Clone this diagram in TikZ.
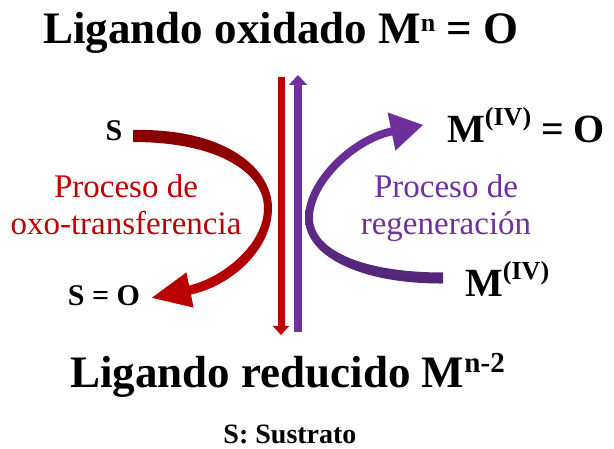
\documentclass[tikz,border=0pt]{standalone}
\usepackage{fontspec}
\setmainfont{LiberationSerif}[Extension=.ttf, UprightFont=*-Regular, BoldFont=*-Bold, ItalicFont=*-Italic, BoldItalicFont=*-BoldItalic]
\usetikzlibrary{arrows.meta}
\definecolor{redc}{RGB}{192,0,0}
\definecolor{redd}{RGB}{135,0,0}
\definecolor{purc}{RGB}{112,48,160}
\definecolor{purd}{RGB}{84,38,120}
\newcommand{\mysup}[3]{\raisebox{#2}{\fontsize{#1}{#1}\selectfont #3}}
\tikzset{
  big/.style={font=\rmfamily\fontsize{45}{50}\selectfont\bfseries, inner sep=0pt},
  med/.style={font=\rmfamily\fontsize{40}{44}\selectfont\bfseries, inner sep=0pt},
  small/.style={font=\rmfamily\fontsize{30}{34}\selectfont\bfseries, inner sep=0pt},
  redtext/.style={font=\rmfamily\fontsize{33}{37}\selectfont, text=redc, inner sep=0pt},
  purtext/.style={font=\rmfamily\fontsize{33}{37}\selectfont, text=purc, inner sep=0pt},
  vred/.style={draw=redc, line width=7pt, -{Triangle[width=16pt,length=9pt]}},
  vpur/.style={draw=purc, line width=8pt, -{Triangle[width=18pt,length=10pt]}}
}
\begin{document}
\begin{tikzpicture}[x=1pt,y=-1pt]
\useasboundingbox (0,0) rectangle (614,449);
\fill[white] (0,0) rectangle (614,449);

% titles
\node[big, anchor=base] (top) at (281,44) {Ligando oxidado M\mysup{26pt}{12pt}{n} = O};
\node[big, anchor=base] (bot) at (287.5,388) {Ligando reducido M\mysup{29pt}{15pt}{n-2}};
\node[font=\rmfamily\fontsize{28}{30}\selectfont\bfseries, inner sep=0pt, anchor=base] (sus) at (290,444) {S: Sustrato};

% left side
\node[small, anchor=base] (S) at (114,141) {S};
\node[small, anchor=base] (SO) at (104,306) {S = O};
\node[redtext, anchor=base] (r1) at (126,198) {Proceso de};
\node[redtext, anchor=base] (r2) at (126,235) {oxo-transferencia};

% right side
\node[med, anchor=base west] (MO) at (447,143) {M\mysup{26pt}{17pt}{(IV)} = O};
\node[med, anchor=base west] (M) at (465,297) {M\mysup{26pt}{17pt}{(IV)}};
\node[purtext, anchor=base] (p1) at (446,198) {Proceso de};
\node[purtext, anchor=base] (p2) at (446,235) {regeneración};

% vertical arrows
\coordinate (rtop) at (281,77);
\coordinate (rbot) at (281,335);
\coordinate (pbot) at (298,332);
\coordinate (ptop) at (298,75);
\draw[vred] (rtop) -- (rbot);
\draw[vpur] (pbot) -- (ptop);

% red curved arrow (oxo-transfer)
\shade[top color=redd, bottom color=redc]
  (133,130) .. controls (225,128) and (272,168) .. (272,208)
  .. controls (272,250) and (231,286) .. (191,294.5)
  -- (193.6,307.6) -- (151.8,297.8) -- (186.4,272.4) -- (189,285.5)
  .. controls (222,278) and (264,245) .. (264,208)
  .. controls (264,175) and (222,142) .. (133,142) -- cycle;

% purple curved arrow (regeneration)
\shade[top color=purc, bottom color=purd]
  (443,283.5) .. controls (360,284) and (305,256) .. (305,218)
  .. controls (305,180) and (351,136) .. (390.7,127.6)
  -- (387.6,112.4) -- (423,125) -- (395.4,150.6) -- (392.3,135.4)
  .. controls (356,143) and (313,184) .. (313,218)
  .. controls (313,250) and (362,272.5) .. (443,272.5) -- cycle;
\end{tikzpicture}
\end{document}
